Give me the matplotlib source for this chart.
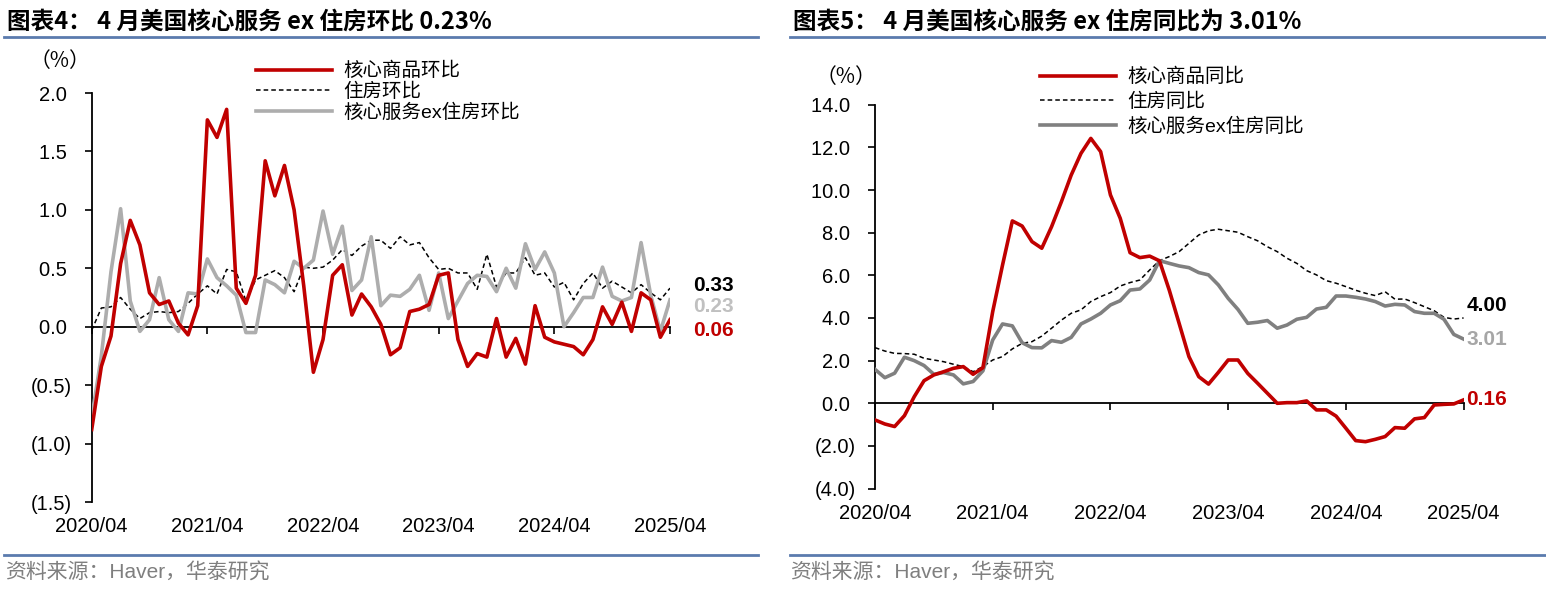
import numpy as np
import matplotlib
matplotlib.use('Agg')
import matplotlib.pyplot as plt
from matplotlib.ticker import FuncFormatter, MultipleLocator
from matplotlib.lines import Line2D

plt.rcParams['font.family'] = ['Liberation Sans', 'Noto Sans CJK SC', 'DejaVu Sans']

W, H = 1546, 592

# monthly index, 2020/04 .. 2025/04
months = np.arange(61)
tick_pos = [0, 12, 24, 36, 48, 60]
tick_labels = ['2020/04', '2021/04', '2022/04', '2023/04', '2024/04', '2025/04']

# chart 4: month-on-month (%)
goods_mom = [-0.88, -0.34, -0.08, 0.54, 0.91, 0.70, 0.29, 0.19, 0.22, 0.03,
             -0.07, 0.18, 1.77, 1.62, 1.86, 0.33, 0.20, 0.44, 1.42, 1.12,
             1.38, 1.00, 0.35, -0.39, -0.11, 0.44, 0.53, 0.10, 0.28, 0.17,
             0.02, -0.24, -0.18, 0.13, 0.15, 0.19, 0.44, 0.46, -0.11, -0.34,
             -0.23, -0.26, 0.07, -0.26, -0.10, -0.32, 0.18, -0.09, -0.13, -0.15,
             -0.17, -0.24, -0.11, 0.17, 0.02, 0.21, -0.04, 0.29, 0.23, -0.09,
             0.06]
housing_mom = [-0.03, 0.16, 0.17, 0.25, 0.15, 0.07, 0.12, 0.13, 0.12, 0.13,
               0.20, 0.28, 0.35, 0.28, 0.49, 0.47, 0.22, 0.40, 0.44, 0.48,
               0.42, 0.30, 0.51, 0.50, 0.51, 0.57, 0.66, 0.61, 0.69, 0.74,
               0.74, 0.67, 0.77, 0.70, 0.72, 0.59, 0.49, 0.50, 0.46, 0.46,
               0.32, 0.62, 0.34, 0.46, 0.46, 0.59, 0.44, 0.46, 0.34, 0.38,
               0.23, 0.37, 0.46, 0.33, 0.39, 0.34, 0.29, 0.36, 0.29, 0.23,
               0.33]
services_mom = [-0.78, -0.25, 0.47, 1.01, 0.22, -0.04, 0.06, 0.42, 0.06, -0.04,
                0.29, 0.28, 0.58, 0.42, 0.35, 0.27, -0.05, -0.05, 0.40, 0.36,
                0.29, 0.56, 0.50, 0.57, 0.99, 0.62, 0.86, 0.31, 0.40, 0.77,
                0.18, 0.27, 0.26, 0.32, 0.44, 0.14, 0.46, 0.07, 0.22, 0.37,
                0.44, 0.43, 0.30, 0.50, 0.33, 0.71, 0.49, 0.64, 0.46, 0.00,
                0.12, 0.25, 0.25, 0.51, 0.26, 0.22, 0.25, 0.72, 0.27, -0.04,
                0.23]

# chart 5: year-on-year (%)
goods_yoy = [-0.78, -0.97, -1.09, -0.58, 0.31, 1.06, 1.33, 1.48, 1.64, 1.72,
             1.36, 1.67, 4.30, 6.48, 8.55, 8.31, 7.58, 7.27, 8.28, 9.45,
             10.70, 11.72, 12.42, 11.80, 9.77, 8.67, 7.06, 6.83, 6.90, 6.68,
             5.30, 3.75, 2.19, 1.25, 0.90, 1.45, 2.03, 2.03, 1.40, 0.94,
             0.47, 0.00, 0.03, 0.03, 0.11, -0.31, -0.31, -0.60, -1.17, -1.75,
             -1.80, -1.69, -1.56, -1.14, -1.17, -0.73, -0.67, -0.08, -0.05, -0.03,
             0.16]
housing_yoy = [2.61, 2.45, 2.34, 2.33, 2.30, 2.11, 2.03, 1.95, 1.83, 1.72,
               1.48, 1.72, 2.03, 2.19, 2.55, 2.81, 2.89, 3.15, 3.52, 3.90,
               4.22, 4.38, 4.77, 5.00, 5.19, 5.50, 5.66, 5.78, 6.25, 6.69,
               6.88, 7.11, 7.50, 7.89, 8.09, 8.16, 8.09, 8.02, 7.81, 7.62,
               7.34, 7.11, 6.80, 6.56, 6.22, 6.02, 5.75, 5.63, 5.47, 5.30,
               5.16, 5.05, 5.23, 4.88, 4.89, 4.72, 4.53, 4.34, 4.03, 3.95,
               4.00]
services_yoy = [1.59, 1.20, 1.41, 2.16, 2.00, 1.77, 1.36, 1.44, 1.33, 0.91,
                1.02, 1.52, 2.97, 3.72, 3.63, 2.84, 2.61, 2.60, 2.94, 2.86,
                3.09, 3.72, 3.95, 4.22, 4.61, 4.81, 5.31, 5.36, 5.78, 6.69,
                6.56, 6.44, 6.36, 6.13, 6.02, 5.55, 4.92, 4.40, 3.75, 3.80,
                3.88, 3.52, 3.67, 3.94, 4.03, 4.42, 4.50, 5.03, 5.03, 4.97,
                4.89, 4.77, 4.56, 4.64, 4.61, 4.30, 4.22, 4.22, 3.94, 3.23,
                3.01]

RED = '#C00000'
GRAY_L = '#ADADAD'
GRAY_D = '#808080'
BLUE = '#5B7BAE'
DASH = (0, (3, 2))


def fmt(v, pos):
    if v < -1e-9:
        return '({:.1f})'.format(abs(v))
    return '{:.1f} '.format(v)


def setup(ax, ylim, step):
    ax.set_xlim(0, 60)
    ax.set_ylim(*ylim)
    for s in ['top', 'right']:
        ax.spines[s].set_visible(False)
    ax.spines['bottom'].set_position(('data', 0))
    ax.spines['left'].set_linewidth(1.3)
    ax.spines['bottom'].set_linewidth(1.3)
    ax.yaxis.set_major_locator(MultipleLocator(step))
    ax.yaxis.set_major_formatter(FuncFormatter(fmt))
    ax.set_xticks(tick_pos)
    ax.tick_params(axis='x', direction='out', length=5, width=1.2, labelbottom=False)
    ax.tick_params(axis='y', direction='out', length=5, width=1.2, pad=9, labelsize=14.5)
    for p, lab in zip(tick_pos, tick_labels):
        ax.annotate(lab, xy=(p, 0), xycoords=('data', 'axes fraction'),
                    xytext=(0, -18), textcoords='offset points',
                    ha='center', va='center', fontsize=14.5, annotation_clip=False)


fig = plt.figure(figsize=(W / 100, H / 100), dpi=100)

# ---- left: chart 4
ax1 = fig.add_axes([91.7 / W, 1 - 502 / H, (670 - 91.7) / W, (502 - 93) / H])
ax1.plot(months, housing_mom, color='k', lw=1.1, ls=DASH, zorder=2)
ax1.plot(months, services_mom, color=GRAY_L, lw=2.6, zorder=3)
ax1.plot(months, goods_mom, color=RED, lw=2.6, zorder=4)
setup(ax1, (-1.5, 2.0), 0.5)

h1 = [Line2D([], [], color=RED, lw=2.6),
      Line2D([], [], color='k', lw=1.1, ls=DASH),
      Line2D([], [], color=GRAY_L, lw=2.6)]
ax1.legend(h1, ['核心商品环比', '住房环比', '核心服务ex住房环比'],
           loc='upper left', bbox_to_anchor=(256 / W, 1 - 62 / H),
           bbox_transform=fig.transFigure, frameon=False, fontsize=14,
           handlelength=3.9, handletextpad=0.6, labelspacing=0.13,
           borderpad=0, borderaxespad=0)

ax1.annotate('{:.2f}'.format(housing_mom[-1]), xy=(60, housing_mom[-1]),
             xytext=(17, 2), textcoords='offset points', ha='left', va='center',
             fontsize=15, fontweight='bold', color='k', annotation_clip=False)
ax1.annotate('{:.2f}'.format(services_mom[-1]), xy=(60, services_mom[-1]),
             xytext=(17, -4.5), textcoords='offset points', ha='left', va='center',
             fontsize=15, fontweight='bold', color='#C0C0C0', annotation_clip=False)
ax1.annotate('{:.2f}'.format(goods_mom[-1]), xy=(60, goods_mom[-1]),
             xytext=(17, -8), textcoords='offset points', ha='left', va='center',
             fontsize=15, fontweight='bold', color=RED, annotation_clip=False)

# ---- right: chart 5
ax2 = fig.add_axes([875 / W, 1 - 488.6 / H, (1463.6 - 875) / W, (488.6 - 104.7) / H])
ax2.plot(months, housing_yoy, color='k', lw=1.1, ls=DASH, zorder=2)
ax2.plot(months, services_yoy, color=GRAY_D, lw=2.6, zorder=3)
ax2.plot(months, goods_yoy, color=RED, lw=2.6, zorder=4)
setup(ax2, (-4.0, 14.0), 2.0)

h2 = [Line2D([], [], color=RED, lw=2.6),
      Line2D([], [], color='k', lw=1.1, ls=DASH),
      Line2D([], [], color=GRAY_D, lw=2.6)]
ax2.legend(h2, ['核心商品同比', '住房同比', '核心服务ex住房同比'],
           loc='upper left', bbox_to_anchor=(1040 / W, 1 - 68 / H),
           bbox_transform=fig.transFigure, frameon=False, fontsize=14,
           handlelength=3.9, handletextpad=0.6, labelspacing=0.33,
           borderpad=0, borderaxespad=0)

ax2.annotate('{:.2f}'.format(housing_yoy[-1]), xy=(60, housing_yoy[-1]),
             xytext=(2, 9), textcoords='offset points', ha='left', va='center',
             fontsize=15, fontweight='bold', color='k', annotation_clip=False)
ax2.annotate('{:.2f}'.format(services_yoy[-1]), xy=(60, services_yoy[-1]),
             xytext=(2, 0), textcoords='offset points', ha='left', va='center',
             fontsize=15, fontweight='bold', color='#A6A6A6', annotation_clip=False)
ax2.annotate('{:.2f}'.format(goods_yoy[-1]), xy=(60, goods_yoy[-1]),
             xytext=(2, 0), textcoords='offset points', ha='left', va='center',
             fontsize=15, fontweight='bold', color=RED, annotation_clip=False)

# ---- frame: titles, rules, units, source
cjk = ['Noto Sans CJK SC', 'DejaVu Sans']
fig.text(7 / W, 1 - 22 / H, '图表4： 4 月美国核心服务 ex 住房环比 0.23%', fontsize=17,
         fontweight='bold', family=cjk, va='center', ha='left')
fig.text(793 / W, 1 - 22 / H, '图表5： 4 月美国核心服务 ex 住房同比为 3.01%', fontsize=17,
         fontweight='bold', family=cjk, va='center', ha='left')

for x0, x1 in [(4, 758), (790, 1546)]:
    for y in (37, 555):
        fig.add_artist(Line2D([x0 / W, x1 / W], [1 - y / H, 1 - y / H],
                              color=BLUE, lw=2))

fig.text(60 / W, 1 - 61 / H, '（%）', fontsize=15, family=cjk, ha='center', va='center')
fig.text(846 / W, 1 - 77 / H, '（%）', fontsize=15, family=cjk, ha='center', va='center')

src = '资料来源：Haver，华泰研究'
fig.text(5 / W, 1 - 572 / H, src, fontsize=15, color='#7F7F7F',
         family=['Liberation Sans', 'Noto Sans CJK SC'], va='center', ha='left')
fig.text(790 / W, 1 - 572 / H, src, fontsize=15, color='#7F7F7F',
         family=['Liberation Sans', 'Noto Sans CJK SC'], va='center', ha='left')

fig.savefig('out.png', dpi=100)
